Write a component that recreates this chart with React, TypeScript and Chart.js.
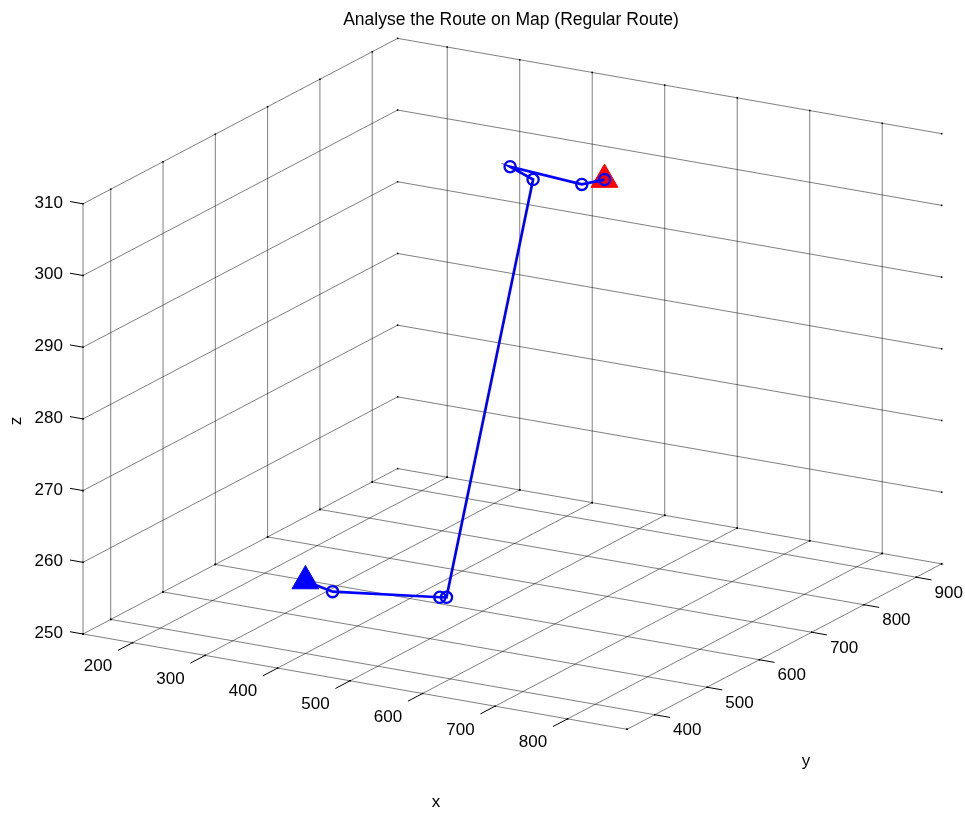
import React, { useEffect, useRef } from "react";
import { Chart, registerables } from "chart.js";

Chart.register(...registerables);

// ---------- data ----------
const TITLE = "Analyse the Route on Map (Regular Route)";
const X_TICKS = [200, 300, 400, 500, 600, 700, 800];
const Y_TICKS = [400, 500, 600, 700, 800, 900];
const Z_TICKS = [250, 260, 270, 280, 290, 300, 310];
const X_LIMITS = [131.6, 882];
const Y_LIMITS = [347, 948.6];
const Z_LIMITS = [250, 310];

const ROUTE_X = [328, 377, 499, 506, 479, 430, 539, 553];
const ROUTE_Y = [500, 484, 520, 523, 726, 750, 736, 760];
const ROUTE_Z = [255, 255, 255, 255, 305, 305, 305, 305];

// ---------- view (orthographic 3-D projection) ----------
const W = 965;
const H = 814;
const ORIGIN = [83, 634];
const EX = [0.725, 0.127];
const EY = [0.523, -0.275];
const EZ = [0, -7.17];
const FONT = '"Liberation Sans", Arial, Helvetica, sans-serif';
const GRID = "rgba(0,0,0,0.5)";

function project(x: number, y: number, z: number) {
  const dx = x - X_LIMITS[0];
  const dy = y - Y_LIMITS[0];
  const dz = z - Z_LIMITS[0];
  return {
    x: ORIGIN[0] + dx * EX[0] + dy * EY[0] + dz * EZ[0],
    y: ORIGIN[1] + dx * EX[1] + dy * EY[1] + dz * EZ[1],
  };
}

function lineSet(pts: { x: number; y: number }[], color: string, dots: boolean) {
  return {
    data: pts,
    showLine: true,
    borderColor: color,
    borderWidth: 1,
    pointRadius: dots ? 1.1 : 0,
    pointStyle: "rect",
    pointBackgroundColor: "#000",
    pointBorderWidth: 0,
    clip: false,
    order: 10,
  };
}

function buildDatasets() {
  const [x0, x1] = X_LIMITS;
  const [y0, y1] = Y_LIMITS;
  const [z0, z1] = Z_LIMITS;
  const sets: any[] = [];

  // route line with circle markers (on top)
  const route = ROUTE_X.map((x, i) => project(x, ROUTE_Y[i], ROUTE_Z[i]));
  sets.push({
    data: route,
    showLine: true,
    borderColor: "#0000ff",
    borderWidth: 2.7,
    pointStyle: "circle",
    pointRadius: 5.6,
    pointBorderWidth: 2.3,
    pointBorderColor: "#0000ff",
    pointBackgroundColor: "rgba(0,0,0,0)",
    clip: false,
    order: 0,
  });
  const n = ROUTE_X.length - 1;
  sets.push({
    data: [project(ROUTE_X[0], ROUTE_Y[0], ROUTE_Z[0])],
    showLine: false,
    pointStyle: "triangle",
    pointRadius: 15.5,
    backgroundColor: "#0000ff",
    borderColor: "#0000ff",
    borderWidth: 1,
    clip: false,
    order: 1,
  });
  sets.push({
    data: [project(ROUTE_X[n], ROUTE_Y[n], ROUTE_Z[n])],
    showLine: false,
    pointStyle: "triangle",
    pointRadius: 15.5,
    backgroundColor: "#ff0000",
    borderColor: "#ff0000",
    borderWidth: 1,
    clip: false,
    order: 1,
  });

  // tick marks
  X_TICKS.forEach((x) => {
    sets.push({ ...lineSet([project(x, y0, z0), project(x, y0 - 28, z0)], "#000", false), order: 5 });
  });
  Y_TICKS.forEach((y) => {
    sets.push({ ...lineSet([project(x1, y, z0), project(x1 + 21, y, z0)], "#000", false), order: 5 });
  });
  Z_TICKS.forEach((z) => {
    sets.push({ ...lineSet([project(x0, y0, z), project(x0 - 18, y0, z)], "#000", false), order: 5 });
  });

  // floor grid
  X_TICKS.forEach((x) => sets.push(lineSet([project(x, y0, z0), project(x, y1, z0)], GRID, true)));
  Y_TICKS.forEach((y) => sets.push(lineSet([project(x0, y, z0), project(x1, y, z0)], GRID, true)));
  // axis edges on the floor
  sets.push(lineSet([project(x0, y0, z0), project(x1, y0, z0)], GRID, true));
  sets.push(lineSet([project(x1, y0, z0), project(x1, y1, z0)], GRID, true));
  // z axis
  sets.push(lineSet([project(x0, y0, z0), project(x0, y0, z1)], GRID, false));
  // left wall verticals (constant y)
  Y_TICKS.forEach((y) => sets.push(lineSet([project(x0, y, z0), project(x0, y, z1)], GRID, true)));
  // back wall verticals (constant x)
  X_TICKS.forEach((x) => sets.push(lineSet([project(x, y1, z0), project(x, y1, z1)], GRID, true)));
  // horizontal z lines on both walls
  Z_TICKS.forEach((z) =>
    sets.push(lineSet([project(x0, y0, z), project(x0, y1, z), project(x1, y1, z)], GRID, true))
  );
  return sets;
}

const labelsPlugin = {
  id: "labels3d",
  afterDraw(chart: any) {
    const ctx = chart.ctx;
    const sx = chart.scales.x;
    const sy = chart.scales.y;
    const px = (p: { x: number; y: number }) => ({ x: sx.getPixelForValue(p.x), y: sy.getPixelForValue(p.y) });
    const [x0, x1] = X_LIMITS;
    const [y0] = Y_LIMITS;
    const [z0] = Z_LIMITS;
    ctx.save();
    ctx.fillStyle = "#000";
    ctx.font = `17px ${FONT}`;

    // z tick labels
    ctx.textAlign = "right";
    ctx.textBaseline = "middle";
    Z_TICKS.forEach((z) => {
      const p = px(project(x0 - 18, y0, z));
      ctx.fillText(String(z), p.x - 7, p.y + 1.5);
    });
    // x tick labels
    ctx.textAlign = "center";
    X_TICKS.forEach((x) => {
      const p = px(project(x, y0 - 28, z0));
      ctx.fillText(String(x), p.x - 20, p.y + 16);
    });
    // y tick labels
    ctx.textAlign = "left";
    Y_TICKS.forEach((y) => {
      const p = px(project(x1 + 21, y, z0));
      ctx.fillText(String(y), p.x + 3, p.y + 13);
    });

    // axis titles
    ctx.textAlign = "center";
    ctx.fillText("x", 436, 802);
    ctx.fillText("y", 806, 761);
    ctx.save();
    ctx.translate(16, 421);
    ctx.rotate(-Math.PI / 2);
    ctx.fillText("z", 0, 0);
    ctx.restore();

    // title
    ctx.font = `17.5px ${FONT}`;
    ctx.fillText(TITLE, 511, 20);
    ctx.restore();
  },
};

export default function App() {
  const ref = useRef<HTMLCanvasElement | null>(null);
  useEffect(() => {
    if (!ref.current) return;
    const chart = new Chart(ref.current, {
      type: "scatter",
      data: { datasets: buildDatasets() },
      options: {
        responsive: false,
        animation: false,
        events: [],
        devicePixelRatio: 1,
        layout: { padding: 0, autoPadding: false },
        elements: { line: { tension: 0 } },
        plugins: { legend: { display: false }, tooltip: { enabled: false }, title: { display: false } },
        scales: {
          x: { type: "linear", min: 0, max: W, display: false },
          y: { type: "linear", min: 0, max: H, reverse: true, display: false },
        },
      },
      plugins: [labelsPlugin],
    } as any);
    return () => chart.destroy();
  }, []);
  return (
    <div style={{ position: "absolute", left: 0, top: 0, width: W, height: H, background: "#fff" }}>
      <canvas ref={ref} width={W} height={H} />
    </div>
  );
}
